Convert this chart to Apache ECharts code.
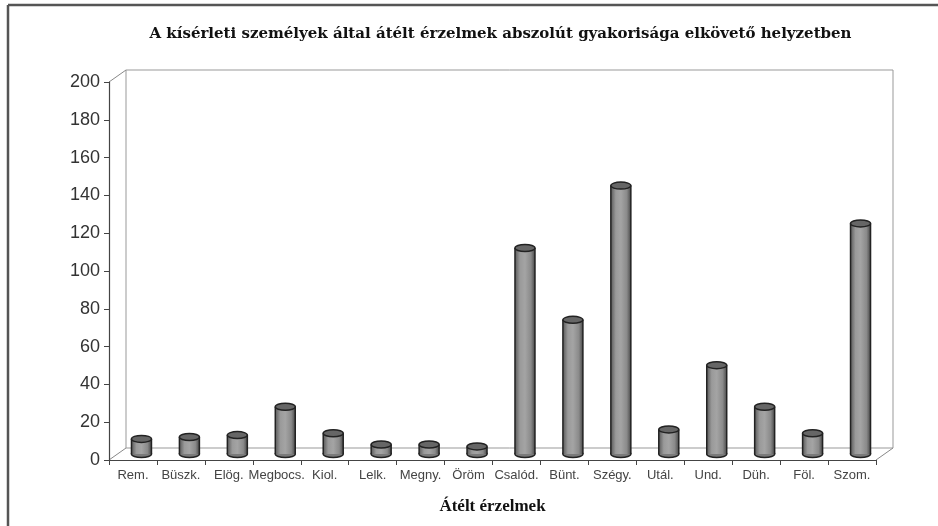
<!DOCTYPE html>
<html>
<head>
<meta charset="utf-8">
<script src="https://cdn.jsdelivr.net/npm/echarts@6/dist/echarts.min.js"></script>
<style>
html,body{margin:0;padding:0;background:#fff;}
#chart{width:938px;height:526px;}
</style>
</head>
<body>
<div id="chart"></div>
<script>
// ---- data ----
var categories = ['Rem.', 'Büszk.', 'Elög.', 'Megbocs.', 'Kiol.', 'Lelk.', 'Megny.', 'Öröm', 'Csalód.', 'Bünt.', 'Szégy.', 'Utál.', 'Und.', 'Düh.', 'Föl.', 'Szom.'];
var values = [8, 9, 10, 25, 11, 5, 5, 4, 109, 71, 142, 13, 47, 25, 11, 122];
var yTicks = [0, 20, 40, 60, 80, 100, 120, 140, 160, 180, 200];
var titleText = 'A kísérleti személyek által átélt érzelmek abszolút gyakorisága elkövető helyzetben';
var xAxisName = 'Átélt érzelmek';

// ---- layout ----
var W = 938, H = 526;
var front = {left: 109, right: 62, top: 82, bottom: 66};
var depthX = 17, depthY = -12;
function shifted(f) {
  return {left: front.left + f * depthX, right: front.right - f * depthX,
          top: front.top + f * depthY, bottom: front.bottom - f * depthY};
}
var back = shifted(1), mid = shifted(0.5);

var chart = echarts.init(document.getElementById('chart'));

function cylinder(params, api) {
  var i = api.value(0), v = api.value(1);
  var top = api.coord([i, v]);
  var base = api.coord([i, 0]);
  var bw = 20, ry = 3.5;
  var x0 = top[0] - bw / 2;
  var grad = new echarts.graphic.LinearGradient(0, 0, 1, 0, [
    {offset: 0, color: '#5a5a5a'},
    {offset: 0.25, color: '#9a9a9a'},
    {offset: 0.5, color: '#a4a4a4'},
    {offset: 0.8, color: '#8a8a8a'},
    {offset: 1, color: '#4a4a4a'}
  ]);
  return {
    type: 'group',
    children: [
      {type: 'ellipse', shape: {cx: top[0], cy: base[1], rx: bw / 2, ry: ry},
       style: {fill: '#7a7a7a', stroke: '#222', lineWidth: 1.5}},
      {type: 'rect', shape: {x: x0, y: top[1], width: bw, height: base[1] - top[1]},
       style: {fill: grad, stroke: null}},
      {type: 'line', shape: {x1: x0, y1: top[1], x2: x0, y2: base[1]},
       style: {stroke: '#222', lineWidth: 1.5}},
      {type: 'line', shape: {x1: x0 + bw, y1: top[1], x2: x0 + bw, y2: base[1]},
       style: {stroke: '#222', lineWidth: 1.5}},
      {type: 'ellipse', shape: {cx: top[0], cy: top[1], rx: bw / 2, ry: ry},
       style: {fill: '#666', stroke: '#222', lineWidth: 1.5}}
    ]
  };
}

var fl = front.left, fr = W - front.right, fb = H - front.bottom, ft = front.top;
var lineStyle = {stroke: '#888', lineWidth: 1};

var option = {
  backgroundColor: '#fff',
  animation: false,
  title: {
    text: titleText, left: (fl + fr) / 2 + 3, top: 22, textAlign: 'center',
    textStyle: {fontFamily: 'DejaVu Serif', fontWeight: 'bold', fontSize: 15, color: '#111'}
  },
  graphic: [
    {type: 'line', shape: {x1: 8, y1: 5, x2: W, y2: 5}, style: {stroke: '#555', lineWidth: 2.5}, z: 0},
    {type: 'line', shape: {x1: 8, y1: 5, x2: 8, y2: H}, style: {stroke: '#555', lineWidth: 2.5}, z: 0},
    {type: 'line', shape: {x1: fl, y1: ft, x2: fl + depthX, y2: ft + depthY}, style: lineStyle, z: 0},
    {type: 'line', shape: {x1: fl, y1: fb, x2: fl + depthX, y2: fb + depthY}, style: lineStyle, z: 0},
    {type: 'line', shape: {x1: fr, y1: fb, x2: fr + depthX, y2: fb + depthY}, style: lineStyle, z: 0},
    {type: 'text', x: (fl + fr) / 2, y: 507,
     style: {text: xAxisName, font: 'bold 17px "Liberation Serif"', fill: '#111',
             textAlign: 'center', textVerticalAlign: 'middle'}}
  ],
  grid: [
    {left: front.left, right: front.right, top: front.top, bottom: front.bottom},
    {left: back.left, right: back.right, top: back.top, bottom: back.bottom,
     show: true, borderColor: '#999', borderWidth: 1, backgroundColor: 'transparent'},
    {left: mid.left, right: mid.right, top: mid.top, bottom: mid.bottom}
  ],
  xAxis: [
    {gridIndex: 0, type: 'category', data: categories, boundaryGap: true,
     axisLine: {lineStyle: {color: '#444', width: 1.2}},
     axisTick: {show: true, length: 5, lineStyle: {color: '#444'}},
     axisLabel: {color: '#444', fontFamily: 'Liberation Sans', fontSize: 13, margin: 9, interval: 0}},
    {gridIndex: 1, type: 'category', data: categories, show: false},
    {gridIndex: 2, type: 'category', data: categories, show: false}
  ],
  yAxis: [
    {gridIndex: 0, type: 'value', min: yTicks[0], max: yTicks[yTicks.length - 1], interval: yTicks[1] - yTicks[0],
     axisLine: {show: true, lineStyle: {color: '#444', width: 1.2}},
     axisTick: {show: true, length: 5, lineStyle: {color: '#444'}},
     splitLine: {show: false},
     axisLabel: {color: '#333', fontFamily: 'Liberation Sans', fontSize: 18, margin: 9}},
    {gridIndex: 1, type: 'value', min: 0, max: 200, show: false, splitLine: {show: false}},
    {gridIndex: 2, type: 'value', min: 0, max: 200, show: false, splitLine: {show: false}}
  ],
  series: [
    {type: 'custom', xAxisIndex: 2, yAxisIndex: 2, renderItem: cylinder,
     data: values.map(function (v, i) { return [i, v]; }), z: 5}
  ]
};
chart.setOption(option);
</script>
</body>
</html>
